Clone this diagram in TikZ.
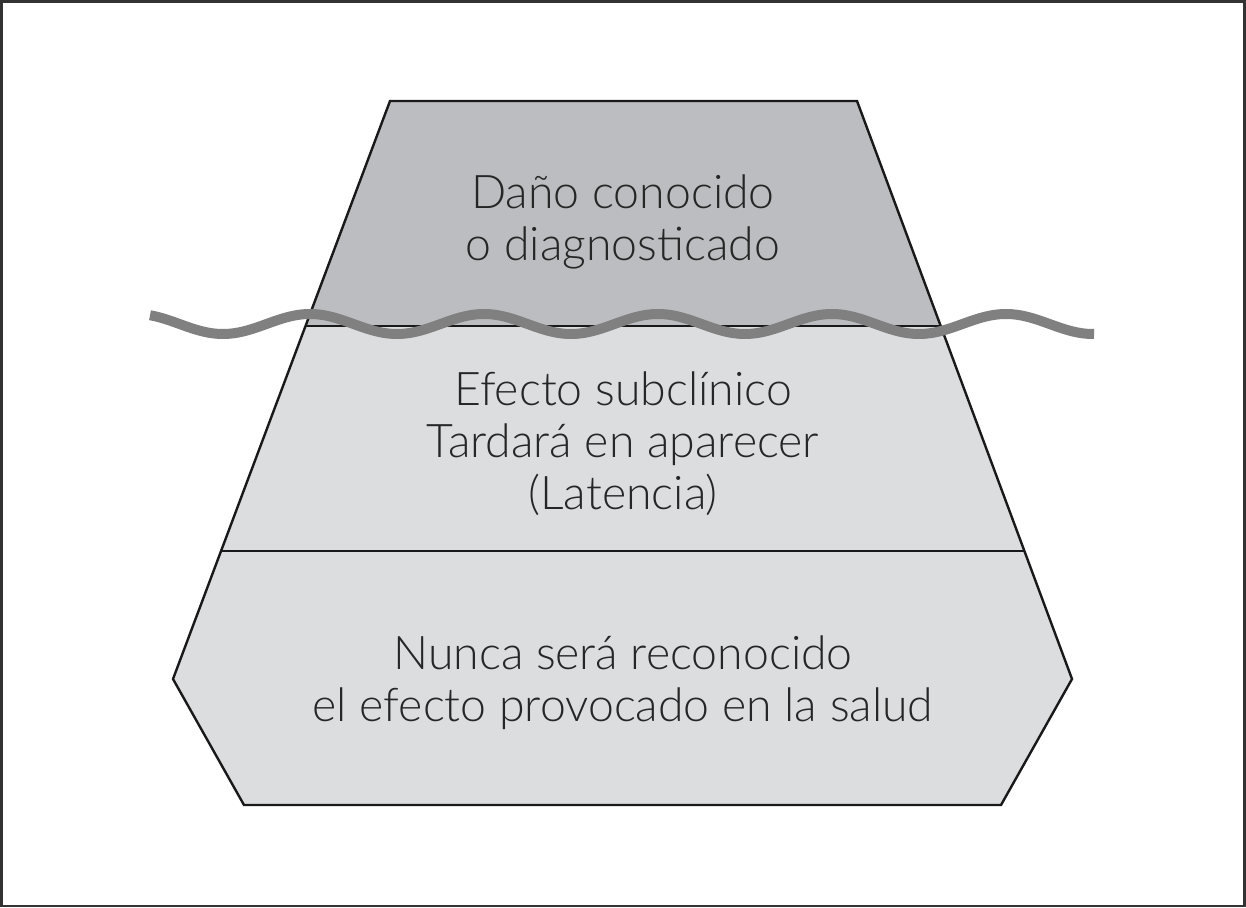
\documentclass[tikz,border=0pt]{standalone}
\usepackage{fontspec}
\setmainfont{Lato Light}
\begin{document}
\begin{tikzpicture}[x=0.5pt,y=-0.5pt,
  edge/.style={draw=black!90, line width=1.2pt, line join=miter},
  lbl/.style={align=center, font=\fontsize{23.2}{26}\selectfont, text=black!85},
  wave/.style={draw=black!50, line width=5pt}]
\useasboundingbox (0,0) rectangle (1246,908);
\definecolor{topgray}{HTML}{BCBDC0}
\definecolor{lowgray}{HTML}{DCDDDF}
% frame
\draw[draw=black!80, line width=1.3pt] (1.5,1.5) rectangle (1244.5,906);
% fills
\fill[topgray] (390,101) -- (857,101) -- (940,326) -- (306,326) -- cycle;
\fill[lowgray] (306,326) -- (940,326) -- (1072,679) -- (1001,805) -- (244,805) -- (173,679) -- cycle;
% outline
\draw[edge] (390,101) -- (857,101) -- (1072,679) -- (1001,805) -- (244,805) -- (173,679) -- cycle;
\draw[edge] (306,326) -- (940,326);
\draw[edge] (220,551) -- (1024,551);
% wave
\draw[wave] plot[domain=150:1094, samples=200, smooth] (\x, {324-10*cos(2.069*(\x-310))});
% texts
\node[lbl] (t1) at (623,222) {Daño conocido\\o diagnosticado};
\node[lbl] (t2) at (623,444) {Efecto subclínico\\Tardará en aparecer\\(Latencia)};
\node[lbl] (t3) at (623,683) {Nunca será reconocido\\el efecto provocado en la salud};
\end{tikzpicture}
\end{document}
